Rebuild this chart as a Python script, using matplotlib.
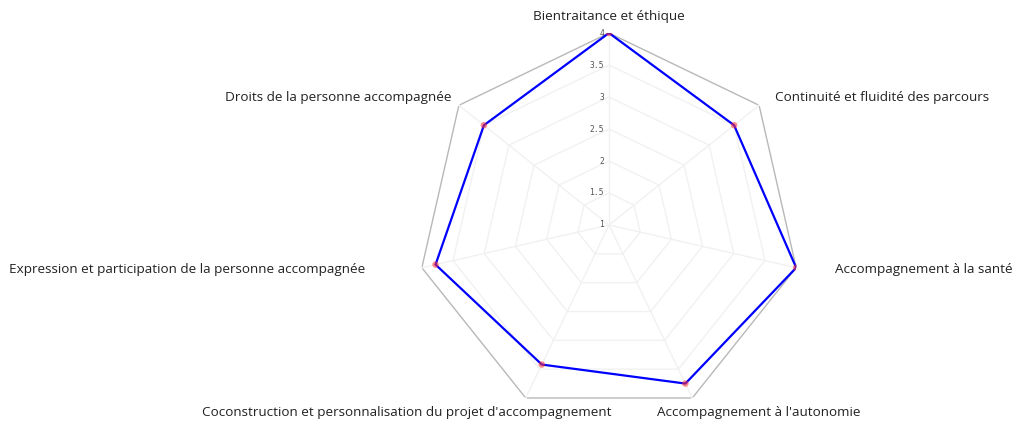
import numpy as np
import matplotlib
matplotlib.use("Agg")
import matplotlib.pyplot as plt

categories = [
    "Bientraitance et éthique",
    "Continuité et fluidité des parcours",
    "Accompagnement à la santé",
    "Accompagnement à l'autonomie",
    "Coconstruction et personnalisation du projet d'accompagnement",
    "Expression et participation de la personne accompagnée",
    "Droits de la personne accompagnée",
]
values = [4.0, 3.5, 4.0, 3.75, 3.42, 3.78, 3.5]
r_ticks = [1, 1.5, 2, 2.5, 3, 3.5, 4]
r_tick_labels = ["1", "1.5", "2", "2.5", "3", "3.5", "4"]

# label placement: (dx px, dy px, ha, va)
label_style = [
    (0, 10, "center", "bottom"),
    (16, 8, "left", "center"),
    (39, -2, "left", "center"),
    (-35, -15, "left", "center"),
    (86, -15, "right", "center"),
    (-57, -2, "right", "center"),
    (-7, 8, "right", "center"),
]

W, H = 1016, 425
fig = plt.figure(figsize=(W / 100, H / 100), dpi=100)
cx, cy, R = 609, 225, 192
ax = fig.add_axes([(cx - R) / W, (H - cy - R) / H, 2 * R / W, 2 * R / H], polar=True)
ax.set_theta_zero_location("N")
ax.set_theta_direction(-1)
rmin, rmax = r_ticks[0], r_ticks[-1]
ax.set_ylim(rmin, rmax)
ax.grid(False)
ax.spines["polar"].set_visible(False)
ax.set_xticks([])
ax.set_yticks([])

n = len(categories)
theta = np.arange(n) * 2 * np.pi / n
theta_c = np.append(theta, theta[0])

# polygon grid
for rv in r_ticks[1:]:
    col = "#b8b8b8" if rv == rmax else "#f1f1f1"
    ax.plot(theta_c, [rv] * (n + 1), color=col, lw=1.0, zorder=1)
for t in theta:
    ax.plot([t, t], [rmin, rmax], color="#f1f1f1", lw=1.0, zorder=1)

# tick labels
for rv, lab in zip(r_ticks, r_tick_labels):
    ax.annotate(lab, xy=(0, rv), xytext=(-5, 0), textcoords="offset pixels",
                ha="right", va="center", fontsize=5.8, family="DejaVu Sans Mono",
                color="#555555")

vals_c = values + values[:1]
ax.plot(theta_c, vals_c, color="#0000ff", lw=1.6, zorder=3)
ax.scatter(theta, values, s=22, color="#ff3030", alpha=0.55, zorder=4, edgecolors="none")

for t, lab, (dx, dy, ha, va) in zip(theta, categories, label_style):
    ax.annotate(lab, xy=(t, rmax), xytext=(dx, dy), textcoords="offset pixels",
                ha=ha, va=va, fontsize=9.7, family="Open Sans", color="#222222",
                annotation_clip=False)

fig.savefig("out.png", dpi=100, facecolor="white")
